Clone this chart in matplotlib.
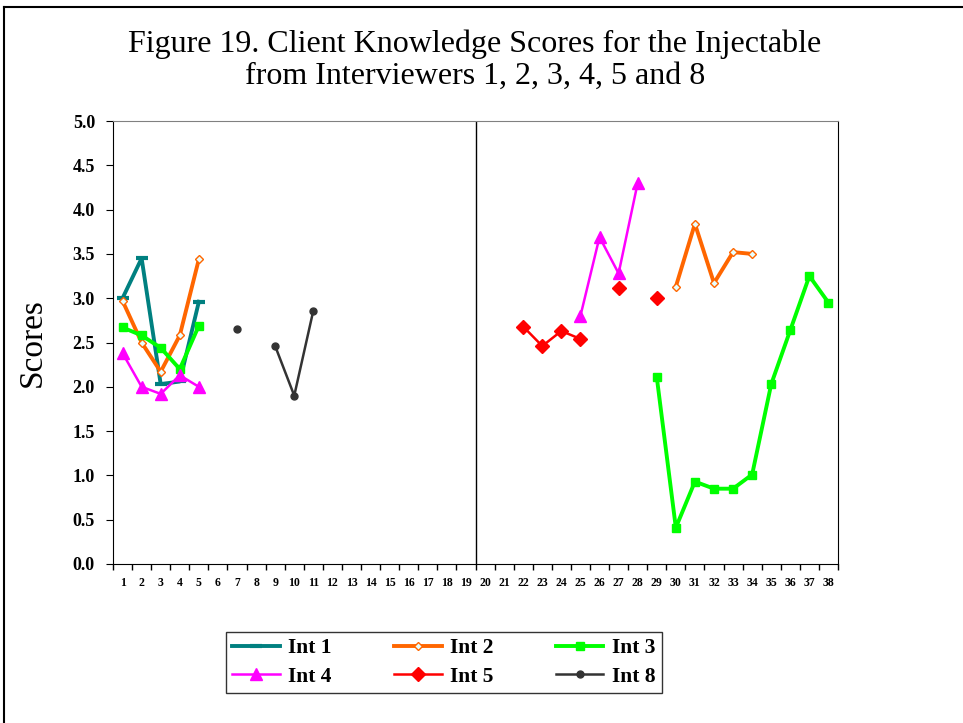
import numpy as np
import matplotlib
matplotlib.use("Agg")
import matplotlib.pyplot as plt
from matplotlib.lines import Line2D

N = np.nan

# client number on the x axis
clients = list(range(1, 39))

# scores per interviewer (NaN = no client for that interviewer)
int1 = [3.00, 3.45, 2.03, 2.06, 2.96] + [N] * 33
int2 = [2.97, 2.50, 2.17, 2.58, 3.44] + [N] * 24 + [3.13, 3.84, 3.17, 3.52, 3.50] + [N] * 4
int3 = [2.67, 2.58, 2.44, 2.20, 2.69] + [N] * 23 + [2.11, 0.41, 0.93, 0.85, 0.85, 1.01, 2.03, 2.64, 3.25, 2.95]
int4 = [2.38, 2.00, 1.92, 2.13, 2.00] + [N] * 19 + [2.80, 3.69, 3.28, 4.30] + [N] * 10
int5 = [N] * 21 + [2.68, 2.46, 2.63, 2.54, N, 3.12, N, 3.00] + [N] * 9
int8 = [N] * 6 + [2.65, N, 2.46, 1.90, 2.86] + [N] * 27

y_ticks = [0.0, 0.5, 1.0, 1.5, 2.0, 2.5, 3.0, 3.5, 4.0, 4.5, 5.0]

title = "Figure 19. Client Knowledge Scores for the Injectable\nfrom Interviewers 1, 2, 3, 4, 5 and 8"

serif = ["Liberation Serif", "DejaVu Serif"]

fig = plt.figure(figsize=(9.63, 7.23), dpi=100)
ax = fig.add_axes([113 / 963, 1 - 564 / 723, (838 - 113) / 963, (564 - 121) / 723])

x = np.array(clients)
h1, = ax.plot(x, int1, color="#008080", lw=2.8, marker="_", ms=8, mew=3, label="Int 1")
h2, = ax.plot(x, int2, color="#FF6600", lw=2.8, marker="D", ms=4.5, mfc="#E6FFFF",
              mec="#FF6600", mew=1, label="Int 2")
h3, = ax.plot(x, int3, color="#00FF00", lw=2.8, marker="s", ms=6, label="Int 3")
h4, = ax.plot(x, int4, color="#FF00FF", lw=1.8, marker="^", ms=9, label="Int 4")
h5, = ax.plot(x, int5, color="#FF0000", lw=1.8, marker="D", ms=7, label="Int 5")
h8, = ax.plot(x, int8, color="#333333", lw=1.8, marker="o", ms=5, label="Int 8")

ax.axvline(19.5, color="black", lw=1)

ax.set_xlim(0.5, 38.5)
ax.set_ylim(0, 5)
ax.set_yticks(y_ticks)
ax.set_yticklabels([f"{v:.1f}" for v in y_ticks], fontfamily=serif,
                   fontweight="bold", fontsize=13)

# tick marks between categories, labels in the middle
ax.set_xticks(np.arange(0.5, 39, 1))
ax.set_xticklabels([])
ax.set_xticks(x, minor=True)
ax.set_xticklabels([str(c) for c in clients], minor=True, fontfamily=serif,
                   fontweight="bold", fontsize=8.5)
ax.tick_params(axis="x", which="major", length=4, direction="out", width=1)
ax.tick_params(axis="x", which="minor", length=0, pad=9)
ax.tick_params(axis="y", length=5, direction="out", pad=8)

for s in ["left", "right", "bottom"]:
    ax.spines[s].set_color("black")
ax.spines["top"].set_color("#808080")

ax.set_ylabel("Scores", fontfamily=serif, fontsize=24, labelpad=18)

fig.text(0.493, 1 - 60 / 723, title, ha="center", va="center",
         fontfamily=serif, fontsize=23, linespacing=1.15)

# legend: row-wise order Int1 Int2 Int3 / Int4 Int5 Int8
handles = [h1, h4, h2, h5, h3, h8]
leg = fig.legend(handles=handles, labels=[h.get_label() for h in handles], ncol=3,
                 loc="center", bbox_to_anchor=(444 / 963, 1 - 662.5 / 723),
                 prop={"family": serif, "weight": "bold", "size": 15.5},
                 frameon=True, fancybox=False, edgecolor="black",
                 handlelength=2.2, handletextpad=0.4, columnspacing=2.9,
                 borderpad=0.3, labelspacing=0.4)
leg.get_frame().set_linewidth(1)

# outer frame (top and left edges)
fig.add_artist(Line2D([3.5 / 963, 1], [1 - 6.5 / 723, 1 - 6.5 / 723],
                      transform=fig.transFigure, color="black", lw=1.5))
fig.add_artist(Line2D([3.5 / 963, 3.5 / 963], [0, 1 - 6.5 / 723],
                      transform=fig.transFigure, color="black", lw=1.5))

fig.savefig("out.png", dpi=100)
